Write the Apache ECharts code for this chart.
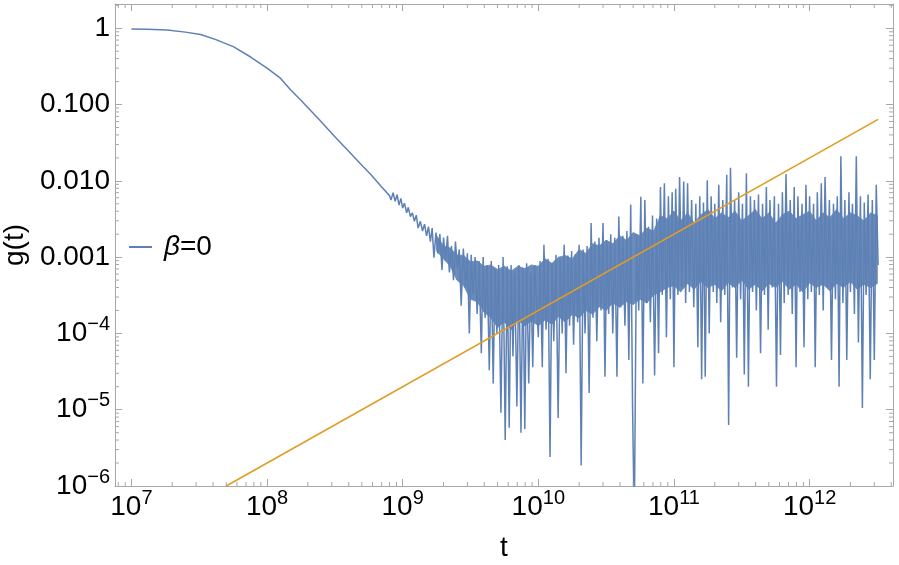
<!DOCTYPE html>
<html><head><meta charset="utf-8">
<script src="https://cdn.jsdelivr.net/npm/echarts@6/dist/echarts.min.js"></script>
<style>html,body{margin:0;padding:0;background:#fff}#c{width:899px;height:565px}</style>
</head><body><div id="c"></div>
<script>
// ---- axis ticks / labels ----
const xTickValues = [1e7, 1e8, 1e9, 1e10, 1e11, 1e12];
const xTickSup = ['7', '8', '9', '10', '11', '12'];
const yTickValues = [1, 0.1, 0.01, 0.001, 1e-4, 1e-5, 1e-6];
const yTickBase = ['1', '0.100', '0.010', '0.001', '10', '10', '10'];
const yTickSup = ['', '', '', '', '−4', '−5', '−6'];
const minorMultipliers = [2, 3, 4, 5, 6, 7, 8, 9];
const xDecades = [1e6, 1e7, 1e8, 1e9, 1e10, 1e11, 1e12];
const yDecades = [1e-6, 1e-5, 1e-4, 1e-3, 1e-2, 1e-1, 1];
const xRange = [7.57e6, 4.12e12];
const yRange = [1e-6, 2.08];
const xName = 't';
const yName = 'g(t)';

// ---- series: beta = 0 (smooth decay, then noisy part) ----
const betaSmooth = [
  [1.0e7, 0.98], [1.3e7, 0.97], [1.84e7, 0.95], [2.5e7, 0.89], [3.24e7, 0.83], [4.2e7, 0.71],
  [5.68e7, 0.57], [7.57e7, 0.42], [1.0e8, 0.30], [1.26e8, 0.22], [1.49e8, 0.156], [1.77e8, 0.115],
  [2.48e8, 0.061], [3.2e8, 0.037], [4.13e8, 0.023], [5.0e8, 0.016], [5.8e8, 0.0122], [7.0e8, 0.0083],
  [8.0e8, 0.0064]
];
const noise8 = [[8.2e8, 5.6e-3], [8.5e8, 7.0e-3], [8.8e8, 5.4e-3], [9.1e8, 6.6e-3], [9.4e8, 4.8e-3], [9.7e8, 5.9e-3]];
const noise9 = [
  [1.0e9, 4.4e-3], [1.03e9, 5.1e-3], [1.07e9, 3.8e-3], [1.1e9, 4.5e-3], [1.14e9, 3.4e-3], [1.18e9, 3.8e-3],
  [1.22e9, 2.95e-3], [1.26e9, 3.55e-3], [1.3e9, 2.4e-3], [1.35e9, 2.95e-3], [1.4e9, 2.2e-3], [1.45e9, 2.7e-3],
  [1.5e9, 1.9e-3], [1.55e9, 2.5e-3], [1.6e9, 1.6e-3], [1.65e9, 2.4e-3], [1.7e9, 9.8e-4], [1.76e9, 2.1e-3],
  [1.82e9, 1.12e-3], [1.88e9, 2.0e-3], [1.95e9, 6.8e-4], [2.0e9, 1.8e-3], [2.07e9, 8.9e-4], [2.14e9, 1.9e-3],
  [2.21e9, 6.3e-4], [2.29e9, 1.4e-3], [2.37e9, 5.0e-4], [2.45e9, 1.6e-3], [2.53e9, 7.1e-4], [2.61e9, 1.26e-3],
  [2.7e9, 2.3e-4], [2.8e9, 1.3e-3], [2.9e9, 4.0e-4], [3.0e9, 1.12e-3], [3.1e9, 1.0e-4], [3.2e9, 1.07e-3],
  [3.3e9, 3.2e-4], [3.42e9, 1.0e-3], [3.54e9, 1.8e-4], [3.66e9, 8.9e-4], [3.8e9, 5.5e-5], [3.92e9, 1.0e-3],
  [4.05e9, 1.6e-4], [4.2e9, 7.9e-4], [4.35e9, 3.3e-5], [4.5e9, 8.9e-4], [4.65e9, 2.2e-5], [4.8e9, 7.1e-4],
  [4.95e9, 1.0e-4], [5.1e9, 7.9e-4], [5.3e9, 9.1e-6], [5.5e9, 1.0e-3], [5.7e9, 4.0e-6], [5.9e9, 7.6e-4],
  [6.1e9, 5.8e-6], [6.3e9, 7.9e-4], [6.5e9, 5.0e-5], [6.7e9, 6.3e-4], [6.95e9, 1.1e-5], [7.2e9, 7.9e-4],
  [7.45e9, 5.0e-6], [7.7e9, 7.1e-4], [7.95e9, 5.6e-6], [8.2e9, 8.3e-4], [8.5e9, 2.2e-5], [8.8e9, 6.3e-4],
  [9.1e9, 3.6e-5], [9.4e9, 7.9e-4]
];
const noise10 = [
  [1.0e10, 8.9e-5], [1.03e10, 8.9e-4], [1.07e10, 3.6e-5], [1.1e10, 1.45e-3], [1.14e10, 1.12e-4], [1.18e10, 9.5e-4],
  [1.22e10, 2.4e-6], [1.26e10, 8.3e-4], [1.3e10, 7.9e-5], [1.35e10, 1.07e-3], [1.4e10, 7.8e-6], [1.45e10, 9.5e-4],
  [1.5e10, 1.0e-4], [1.55e10, 1.45e-3], [1.6e10, 3.0e-5], [1.65e10, 1.05e-3], [1.7e10, 1.26e-4], [1.76e10, 1.2e-3],
  [1.82e10, 7.1e-5], [1.88e10, 1.1e-3], [1.95e10, 1.4e-4], [2.0e10, 1.45e-3], [2.07e10, 1.86e-6], [2.14e10, 1.26e-3],
  [2.21e10, 1.0e-4], [2.29e10, 1.4e-3], [2.37e10, 1.66e-5], [2.45e10, 2.8e-3], [2.53e10, 1.6e-4], [2.61e10, 1.6e-3],
  [2.7e10, 7.9e-5], [2.8e10, 1.8e-3], [2.9e10, 2.0e-4], [3.0e10, 2.8e-3], [3.1e10, 2.7e-5], [3.2e10, 1.66e-3],
  [3.3e10, 1.8e-4], [3.42e10, 2.0e-3], [3.54e10, 1.0e-4], [3.66e10, 1.8e-3], [3.8e10, 2.7e-5], [3.92e10, 3.4e-3],
  [4.05e10, 2.2e-4], [4.2e10, 1.9e-3], [4.35e10, 1.26e-4], [4.5e10, 2.2e-3], [4.65e10, 4.5e-5], [4.8e10, 4.9e-3],
  [4.95e10, 1.15e-5], [5.1e10, 3.0e-7], [5.3e10, 2.0e-3], [5.5e10, 2.0e-4], [5.7e10, 6.2e-3], [5.9e10, 2.2e-5],
  [6.1e10, 5.6e-3], [6.3e10, 2.5e-4], [6.5e10, 2.5e-3], [6.7e10, 1.4e-4], [6.95e10, 3.5e-3], [7.2e10, 2.8e-5],
  [7.45e10, 3.2e-3], [7.7e10, 5.5e-5], [7.95e10, 8.3e-3], [8.2e10, 3.2e-4], [8.5e10, 9.3e-3], [8.8e10, 8.9e-5],
  [9.1e10, 6.3e-3], [9.4e10, 2.8e-4], [9.7e10, 7.1e-3]
];
const noise11 = [
  [1.0e11, 3.6e-5], [1.03e11, 7.9e-3], [1.07e11, 3.2e-4], [1.1e11, 1.12e-2], [1.14e11, 4.0e-4], [1.18e11, 9.8e-3],
  [1.22e11, 2.5e-4], [1.26e11, 9.3e-3], [1.3e11, 3.5e-4], [1.35e11, 5.6e-3], [1.4e11, 2.2e-4], [1.45e11, 5.0e-3],
  [1.5e11, 6.6e-5], [1.55e11, 6.3e-3], [1.6e11, 2.5e-5], [1.65e11, 5.2e-3], [1.7e11, 2.7e-5], [1.76e11, 1.02e-2],
  [1.82e11, 1.0e-4], [1.88e11, 6.3e-3], [1.95e11, 3.5e-4], [2.0e11, 5.0e-3], [2.07e11, 2.5e-4], [2.14e11, 8.9e-3],
  [2.21e11, 1.4e-4], [2.29e11, 5.6e-3], [2.37e11, 3.2e-4], [2.45e11, 1.2e-2], [2.53e11, 6.3e-6], [2.61e11, 1.48e-2],
  [2.7e11, 4.0e-4], [2.8e11, 5.6e-3], [2.9e11, 4.8e-5], [3.0e11, 7.1e-3], [3.1e11, 2.8e-4], [3.2e11, 5.0e-3],
  [3.3e11, 2.9e-5], [3.42e11, 1.26e-2], [3.54e11, 2.0e-5], [3.66e11, 6.3e-3], [3.8e11, 3.5e-4], [3.92e11, 5.6e-3],
  [4.05e11, 2.0e-4], [4.2e11, 6.6e-3], [4.35e11, 5.5e-5], [4.5e11, 5.0e-3], [4.65e11, 3.2e-4], [4.8e11, 8.3e-3],
  [4.95e11, 1.12e-4], [5.1e11, 5.6e-3], [5.3e11, 4.0e-4], [5.5e11, 6.3e-3], [5.7e11, 2.0e-5], [5.9e11, 5.0e-3],
  [6.1e11, 5.2e-5], [6.3e11, 7.1e-3], [6.5e11, 2.5e-4], [6.7e11, 1.23e-2], [6.95e11, 3.2e-4], [7.2e11, 5.6e-3],
  [7.45e11, 1.8e-4], [7.7e11, 8.3e-3], [7.95e11, 3.6e-5], [8.2e11, 6.3e-3], [8.5e11, 3.5e-4], [8.8e11, 5.0e-3],
  [9.1e11, 6.6e-5], [9.4e11, 8.9e-3], [9.7e11, 2.8e-4]
];
const noise12 = [
  [1.0e12, 6.3e-3], [1.03e12, 3.5e-4], [1.07e12, 5.0e-3], [1.1e12, 3.6e-5], [1.14e12, 7.1e-3], [1.18e12, 3.2e-4],
  [1.22e12, 9.3e-3], [1.26e12, 2.0e-4], [1.3e12, 1.12e-2], [1.35e12, 4.0e-4], [1.4e12, 5.6e-3], [1.45e12, 4.5e-5],
  [1.5e12, 5.0e-3], [1.55e12, 2.8e-4], [1.6e12, 6.3e-3], [1.65e12, 2.0e-5], [1.7e12, 2.1e-2], [1.76e12, 2.5e-4],
  [1.82e12, 5.6e-3], [1.88e12, 4.5e-5], [1.95e12, 7.1e-3], [2.0e12, 3.5e-4], [2.07e12, 5.0e-3], [2.14e12, 1.8e-4],
  [2.21e12, 2.1e-2], [2.29e12, 7.6e-5], [2.37e12, 6.3e-3], [2.45e12, 1.05e-5], [2.53e12, 5.2e-3], [2.61e12, 3.2e-4],
  [2.7e12, 6.6e-3], [2.8e12, 2.5e-5], [2.9e12, 5.6e-3], [3.0e12, 4.5e-5], [3.1e12, 8.9e-3], [3.2e12, 7.9e-4]
];
// dense core of the noisy band, read as [t, lower edge, upper edge]
const bandCore = [
  [1.78e9, 1.2e-3, 1.9e-3], [2.0e9, 9.5e-4, 1.41e-3], [2.24e9, 7.6e-4, 1.32e-3], [2.51e9, 5.0e-4, 1.07e-3],
  [2.82e9, 4.2e-4, 1.05e-3], [3.16e9, 2.8e-4, 8.7e-4], [3.55e9, 2.6e-4, 8.9e-4], [3.98e9, 1.9e-4, 7.6e-4],
  [4.47e9, 1.6e-4, 7.9e-4], [5.01e9, 1.2e-4, 6.9e-4], [5.62e9, 1.41e-4, 7.6e-4], [6.31e9, 1.12e-4, 6.6e-4],
  [7.08e9, 1.5e-4, 7.6e-4], [7.94e9, 1.26e-4, 7.1e-4], [8.91e9, 1.45e-4, 7.9e-4], [1.0e10, 1.26e-4, 7.6e-4],
  [1.12e10, 1.5e-4, 9.5e-4], [1.26e10, 1.32e-4, 8.3e-4], [1.41e10, 1.66e-4, 1.0e-3], [1.58e10, 1.41e-4, 1.05e-3],
  [1.78e10, 1.78e-4, 9.5e-4], [2.0e10, 1.6e-4, 1.26e-3], [2.24e10, 2.0e-4, 1.12e-3], [2.51e10, 1.78e-4, 1.5e-3],
  [2.82e10, 2.24e-4, 1.41e-3], [3.16e10, 2.0e-4, 1.66e-3], [3.55e10, 2.5e-4, 1.5e-3], [3.98e10, 2.2e-4, 1.9e-3],
  [4.47e10, 2.6e-4, 1.66e-3], [5.01e10, 2.4e-4, 2.1e-3], [5.62e10, 2.8e-4, 1.9e-3], [6.31e10, 2.5e-4, 2.4e-3],
  [7.08e10, 3.2e-4, 2.2e-3], [7.94e10, 3.5e-4, 3.5e-3], [8.91e10, 4.0e-4, 3.2e-3], [1.0e11, 4.2e-4, 4.0e-3],
  [1.12e11, 3.5e-4, 3.0e-3], [1.26e11, 4.5e-4, 3.8e-3], [1.41e11, 3.8e-4, 2.8e-3], [1.58e11, 4.8e-4, 3.6e-3],
  [1.78e11, 4.0e-4, 4.2e-3], [2.0e11, 4.4e-4, 3.2e-3], [2.24e11, 3.6e-4, 3.8e-3], [2.51e11, 4.6e-4, 3.3e-3],
  [2.82e11, 4.0e-4, 4.0e-3], [3.16e11, 5.0e-4, 3.0e-3], [3.55e11, 3.8e-4, 3.5e-3], [3.98e11, 4.4e-4, 4.2e-3],
  [4.47e11, 3.6e-4, 3.2e-3], [5.01e11, 4.5e-4, 3.8e-3], [5.62e11, 4.0e-4, 2.8e-3], [6.31e11, 4.8e-4, 3.6e-3],
  [7.08e11, 3.8e-4, 4.0e-3], [7.94e11, 4.4e-4, 3.2e-3], [8.91e11, 3.5e-4, 3.6e-3], [1.0e12, 4.6e-4, 4.0e-3],
  [1.12e12, 4.0e-4, 3.0e-3], [1.26e12, 4.4e-4, 3.8e-3], [1.41e12, 3.6e-4, 3.3e-3], [1.58e12, 4.5e-4, 4.2e-3],
  [1.78e12, 4.0e-4, 3.2e-3], [2.0e12, 4.8e-4, 3.8e-3], [2.24e12, 3.8e-4, 3.5e-3], [2.51e12, 4.4e-4, 3.0e-3],
  [2.82e12, 4.0e-4, 3.8e-3], [3.16e12, 4.5e-4, 3.5e-3]
];
// ---- straight reference line (orange) ----
const fitLine = [[5.0e7, 1.0e-6], [3.2e12, 0.064]];
const legendName = 'β=0';

const FONT = '"Liberation Sans", Arial, Helvetica, sans-serif';
const frameColor = '#a8a8a8';
const blueColor = '#5E81B5';
const bandColor = '#6a8aba';
const orangeColor = '#E19C24';

const blueData = betaSmooth.concat(noise8, noise9, noise10, noise11, noise12);

function idxOf(vals, v) {
  const lv = Math.log10(v);
  for (let i = 0; i < vals.length; i++) if (Math.abs(Math.log10(vals[i]) - lv) < 1e-6) return i;
  return -1;
}
const rich = {
  b: { fontSize: 28, lineHeight: 38, fontFamily: FONT, color: '#000' },
  s: { fontSize: 20, lineHeight: 20, verticalAlign: 'top', fontFamily: FONT, color: '#000' }
};
const xMinor = [];
xDecades.forEach(d => minorMultipliers.forEach(m => { const v = d * m; if (v > xRange[0] && v < xRange[1]) xMinor.push([v, 1e-3]); }));
const yMinor = [];
yDecades.forEach(d => minorMultipliers.forEach(m => { const v = d * m; if (v > yRange[0] && v < yRange[1]) yMinor.push([1e9, v]); }));

function tickLine(x1, y1, x2, y2) {
  return { type: 'line', shape: { x1, y1, x2, y2 }, style: { stroke: frameColor, lineWidth: 1 } };
}

const majorTick = { show: true, inside: true, length: 7, lineStyle: { color: frameColor, width: 1 } };
const axisLine = { show: true, lineStyle: { color: frameColor, width: 1 } };

const chart = echarts.init(document.getElementById('c'), null, { renderer: 'canvas' });
chart.setOption({
  animation: false,
  backgroundColor: '#fff',
  textStyle: { fontFamily: FONT },
  grid: { left: 115, right: 6, top: 4, bottom: 79, containLabel: false, outerBoundsMode: 'none' },
  legend: {
    data: [legendName], left: 129, top: 233, padding: 0, itemWidth: 23, itemHeight: 2, icon: 'rect',
    selectedMode: false,
    formatter: n => '{i|' + n.charAt(0) + '}{n|' + n.slice(1) + '}',
    textStyle: { rich: {
      i: { fontSize: 28, fontStyle: 'italic', fontFamily: FONT, color: '#000', padding: [0, 0, 0, 7], lineHeight: 30 },
      n: { fontSize: 28, fontFamily: FONT, color: '#000', lineHeight: 30 }
    } }
  },
  xAxis: [
    {
      type: 'log', logBase: 10, min: xRange[0], max: xRange[1], position: 'bottom',
      axisLine, axisTick: majorTick, splitLine: { show: false }, minorTick: { show: false },
      axisLabel: {
        margin: 2, rich,
        formatter: v => { const i = idxOf(xTickValues, v); return i < 0 ? '' : '{b|10}{s|' + xTickSup[i] + '}'; }
      },
      name: xName, nameLocation: 'middle', nameGap: 48,
      nameTextStyle: { fontSize: 28, color: '#000', fontFamily: FONT }
    },
    {
      type: 'log', logBase: 10, min: xRange[0], max: xRange[1], position: 'top',
      axisLine, axisTick: majorTick, splitLine: { show: false }, axisLabel: { show: false }
    }
  ],
  yAxis: [
    {
      type: 'log', logBase: 10, min: yRange[0], max: yRange[1], position: 'left',
      axisLine, axisTick: majorTick, splitLine: { show: false }, minorTick: { show: false },
      axisLabel: {
        margin: 5, rich,
        formatter: v => {
          const i = idxOf(yTickValues, v);
          if (i < 0) return '';
          return yTickSup[i] ? '{b|' + yTickBase[i] + '}{s|' + yTickSup[i] + '}' : '{b|' + yTickBase[i] + '}';
        }
      },
      name: yName, nameLocation: 'middle', nameGap: 80,
      nameTextStyle: { fontSize: 28, color: '#000', fontFamily: FONT }
    },
    {
      type: 'log', logBase: 10, min: yRange[0], max: yRange[1], position: 'right',
      axisLine, axisTick: majorTick, splitLine: { show: false }, axisLabel: { show: false }
    }
  ],
  series: [
    {
      type: 'custom', data: bandCore, silent: true, z: 1, encode: { x: 0, y: [1, 2] },
      renderItem: (params, api) => {
        const i = params.dataIndex;
        if (i >= bandCore.length - 1) return null;
        const a = bandCore[i], b = bandCore[i + 1];
        const pts = [api.coord([a[0], a[2]]), api.coord([b[0], b[2]]), api.coord([b[0], b[1]]), api.coord([a[0], a[1]])];
        return { type: 'polygon', shape: { points: pts }, style: { fill: bandColor, stroke: bandColor, lineWidth: 0.8 } };
      }
    },
    {
      name: legendName, type: 'line', data: blueData, symbol: 'none', showSymbol: false, clip: true,
      lineStyle: { color: blueColor, width: 1.5 }, itemStyle: { color: blueColor }, emphasis: { disabled: true }, z: 2
    },
    {
      name: 'fit', type: 'line', data: fitLine, symbol: 'none', showSymbol: false, clip: true,
      lineStyle: { color: orangeColor, width: 1.6 }, itemStyle: { color: orangeColor }, emphasis: { disabled: true }, z: 3
    },
    {
      type: 'custom', data: xMinor, silent: true, z: 4,
      renderItem: (params, api) => {
        const cs = params.coordSys;
        const px = api.coord([api.value(0), api.value(1)])[0];
        const yb = cs.y + cs.height;
        return { type: 'group', children: [tickLine(px, yb, px, yb - 4), tickLine(px, cs.y, px, cs.y + 4)] };
      }
    },
    {
      type: 'custom', data: yMinor, silent: true, z: 4,
      renderItem: (params, api) => {
        const cs = params.coordSys;
        const py = api.coord([api.value(0), api.value(1)])[1];
        const xr = cs.x + cs.width;
        return { type: 'group', children: [tickLine(cs.x, py, cs.x + 4, py), tickLine(xr, py, xr - 4, py)] };
      }
    }
  ]
});
</script>
</body></html>
